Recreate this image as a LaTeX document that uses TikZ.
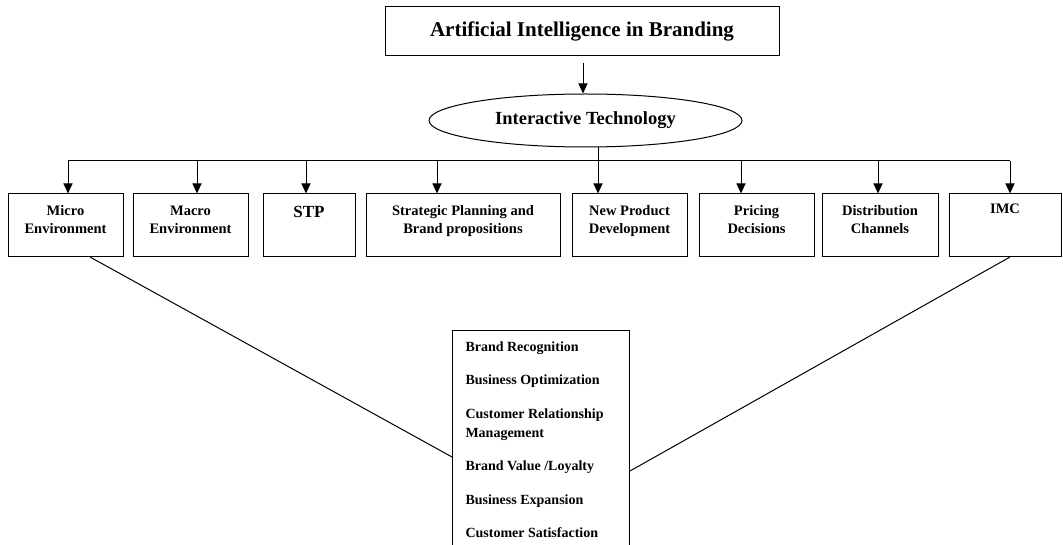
\documentclass[tikz,border=0pt]{standalone}
\usepackage{fontspec}
\setmainfont{Liberation Serif}
\usetikzlibrary{shapes.geometric,arrows.meta}

\tikzset{
  box/.style={rectangle, draw, minimum height=62.5pt, inner sep=0pt},
  boxtext/.style={anchor=north, align=center, inner sep=0pt, font=\bfseries\fontsize{14.5}{18}\selectfont},
  arr/.style={-{Triangle[length=10pt,width=9pt]}},
}

\begin{document}
\begin{tikzpicture}[x=1pt, y=-1pt, line width=1pt]
    \clip (0,0) rectangle (1063,545);

    \node[rectangle, draw, minimum width=394pt, minimum height=49pt, font=\bfseries\fontsize{21}{24}\selectfont] (title) at (582,31.5) {Artificial Intelligence in Branding};
    \coordinate (titlegap) at (583,63);

    \node[ellipse, draw, minimum width=313pt, minimum height=53pt, inner sep=0pt, font=\bfseries\fontsize{18.5}{20}\selectfont] (tech) at (585.5,120.5) {Interactive Technology};

    \node[box, minimum width=115pt] (micro) at (65.5,225.25) {};
    \node[box, minimum width=115pt] (macro) at (190.5,225.25) {};
    \node[box, minimum width=92pt] (stp) at (309,225.25) {};
    \node[box, minimum width=194pt] (plan) at (463,225.25) {};
    \node[box, minimum width=115pt] (npd) at (629.5,225.25) {};
    \node[box, minimum width=115pt] (pricing) at (756.5,225.25) {};
    \node[box, minimum width=116pt] (dist) at (880,225.25) {};
    \node[box, minimum width=112pt] (imc) at (1005,225.25) {};

    \node[boxtext] (microtext) at ([yshift=-11pt]micro.north) {Micro\\Environment};
    \node[boxtext] (macrotext) at ([yshift=-12pt]macro.north) {Macro\\Environment};
    \node[boxtext, font=\bfseries\fontsize{17}{20}\selectfont] (stptext) at ([yshift=-12pt]stp.north) {STP};
    \node[boxtext] (plantext) at ([yshift=-11pt]plan.north) {Strategic Planning and\\Brand propositions};
    \node[boxtext] (npdtext) at ([yshift=-11pt]npd.north) {New Product\\Development};
    \node[boxtext] (pricingtext) at ([yshift=-11pt]pricing.north) {Pricing\\Decisions};
    \node[boxtext] (disttext) at ([yshift=-11pt]dist.north) {Distribution\\Channels};
    \node[boxtext] (imctext) at ([yshift=-10pt]imc.north) {IMC};

    \node[rectangle, draw, anchor=north west, minimum width=177pt, minimum height=240pt, inner sep=0pt] (factors) at (452,330) {};
    \node[anchor=north west, align=left, inner sep=0pt, font=\bfseries\fontsize{14}{19}\selectfont] (factortext) at ([xshift=13pt, yshift=-11pt]factors.north west)
    {Brand Recognition\\[14.5pt]
     Business Optimization\\[14.5pt]
     Customer Relationship\\
     Management\\[14.5pt]
     Brand Value /Loyalty\\[14.5pt]
     Business Expansion\\[14.5pt]
     Customer Satisfaction};

    \draw[arr] (titlegap)
    -- (titlegap |- tech.north);

    \foreach \x/\b in {68/micro, 197/macro, 306/stp, 437/plan, 598/npd, 741/pricing, 878/dist, 1010/imc} {
      \coordinate (bus\b) at (\x,161);
      \draw[arr] (bus\b) -- (bus\b |- \b.north);
    }

    \draw (busmicro)
    -- (busimc);
    \draw (tech.south -| busnpd)
    -- (busnpd);

    \draw ([xshift=24.5pt]micro.south)
    -- ([yshift=-127pt]factors.north west);
    \draw ([xshift=5pt]imc.south)
    -- ([yshift=-141pt]factors.north east);

  \end{tikzpicture}
\end{document}
